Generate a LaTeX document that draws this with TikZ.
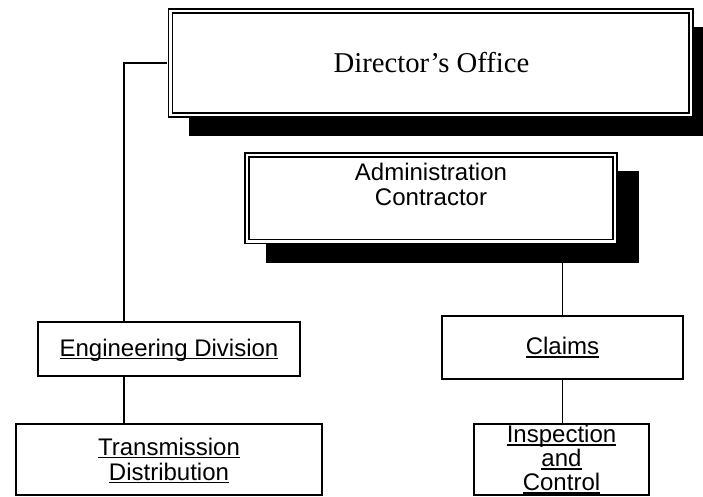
\documentclass[tikz,border=0pt]{standalone}
\usepackage{fontspec}
\setmainfont{Liberation Serif}
\newfontfamily\arialf{Liberation Sans}
\newsavebox\ulbox
\newcommand\myul[1]{\sbox\ulbox{#1}\rlap{\rule[-2.6pt]{\wd\ulbox}{1.3pt}}\usebox\ulbox}
\tikzset{
  dbox/.style={draw, line width=1.5pt, double=white, double distance=2.6pt, fill=white, inner sep=0pt},
  sbox/.style={draw, line width=1.6pt, fill=white, inner sep=0pt},
  shad/.style={fill=black, draw=none, inner sep=0pt},
  conn/.style={line width=1.5pt},
  lbl/.style={font=\arialf\fontsize{24}{25}\selectfont, align=center, inner sep=0pt},
  tlbl/.style={font=\fontsize{28.7}{30}\selectfont, inner sep=0pt},
}
\begin{document}
\begin{tikzpicture}[x=1pt,y=-1pt]
\useasboundingbox (0,0) rectangle (703,496);
% shadows
\node[shad, minimum width=526pt, minimum height=109pt] (dirsh) at (452.25,81) {};
\node[shad, minimum width=373.4pt, minimum height=91.9pt] (adminsh) at (452.5,216.75) {};
% boxes
\node[dbox, minimum width=520.5pt, minimum height=104pt] (dir) at (430.75,63) {};
\node[tlbl] (dirt) at (431.5,63) {Director’s Office};
\node[dbox, minimum width=368pt, minimum height=86.5pt] (admin) at (431,198.25) {};
\node[lbl] (admint) at (431,184.5) {Administration\\Contractor};
\node[sbox, minimum width=262pt, minimum height=54pt] (eng) at (169,349) {};
\node[lbl] (engt) at (169,350.5) {\myul{Engineering Division}};
\node[sbox, minimum width=306pt, minimum height=71pt] (trans) at (169,459.5) {};
\node[lbl] (transt) at (169,460.5) {\myul{Transmission}\\\myul{Distribution}};
\node[sbox, minimum width=241pt, minimum height=63pt] (claims) at (562.5,347.5) {};
\node[lbl] (claimst) at (562.5,347.5) {\myul{Claims}};
\node[sbox, minimum width=175pt, minimum height=71pt] (insp) at (561.5,459.5) {};
\node[lbl, font=\arialf\fontsize{24}{24}\selectfont] (inspt) at (561.5,459.5) {\myul{Inspection}\\\myul{and}\\\myul{Control}};
% connectors
\draw[conn] ([xshift=-2.8pt]dir.west) -| ([xshift=87pt]eng.north west);
\draw[conn] ([xshift=87pt]eng.south west) -- ([xshift=87pt]eng.south west |- trans.north);
\draw[conn] (adminsh.south -| claims.north) -- (claims.north);
\draw[conn] (claims.south) -- (claims.south |- insp.north);
\end{tikzpicture}
\end{document}
